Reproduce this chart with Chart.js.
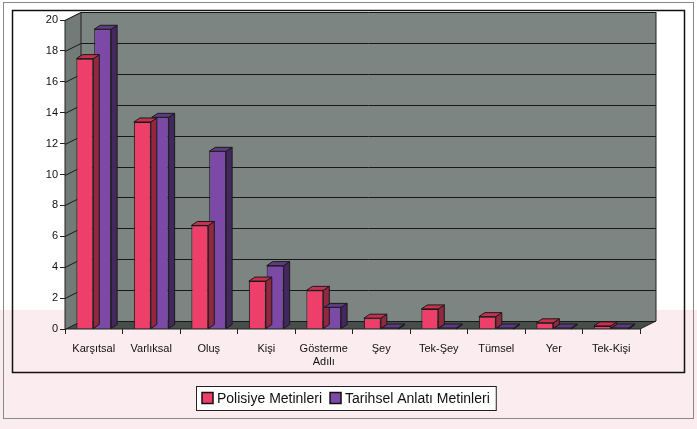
<!DOCTYPE html>
<html>
<head>
<meta charset="utf-8">
<script src="https://cdn.jsdelivr.net/npm/chart.js@4.4.0/dist/chart.umd.min.js"></script>
<style>
  html, body { margin: 0; padding: 0; background: #ffffff; }
  #wrap { position: relative; width: 697px; height: 429px;
    background: linear-gradient(180deg, #ffffff 0, #ffffff 310px, #fbecef 310px, #fbecef 429px); }
  canvas { position: absolute; left: 0; top: 0; }
</style>
</head>
<body>
<div id="wrap"><canvas id="chart" width="697" height="429"></canvas></div>
<script>
// categorie e valori
const categories = ['Karşıtsal', 'Varlıksal', 'Oluş', 'Kişi', ['Gösterme', 'Adılı'], 'Şey', 'Tek-Şey', 'Tümsel', 'Yer', 'Tek-Kişi'];
const polisiye = [17.5, 13.4, 6.7, 3.1, 2.5, 0.7, 1.3, 0.8, 0.4, 0.2];
const tarihsel = [19.4, 13.7, 11.5, 4.1, 1.4, 0, 0, 0, 0, 0];
const yTicks = [0, 2, 4, 6, 8, 10, 12, 14, 16, 18, 20];

const seriesNames = ['Polisiye Metinleri', 'Tarihsel Anlatı Metinleri'];
const seriesColors = ['#ee3f6a', '#7c4aa6'];
const sideColors = ['#92283f', '#43285f'];
const topColors = ['#c8304f', '#5e3a84'];

const WALL_DX = 16, WALL_DY = -8;   // profondità pareti
const BAR_DX = 6, BAR_DY = -4;      // profondità barre

// pareti, pavimento e griglia in stile 3D
const wallPlugin = {
    id: 'wall3d',
    beforeDatasetsDraw(chart) {
        const { ctx, chartArea: a, scales: { y } } = chart;
        ctx.save();
        // parete laterale
        ctx.fillStyle = '#727b77';
        ctx.beginPath();
        ctx.moveTo(a.left, a.top);
        ctx.lineTo(a.left + WALL_DX, a.top + WALL_DY);
        ctx.lineTo(a.left + WALL_DX, a.bottom + WALL_DY);
        ctx.lineTo(a.left, a.bottom);
        ctx.closePath();
        ctx.fill();
        // parete di fondo
        ctx.fillStyle = '#7c8581';
        ctx.fillRect(a.left + WALL_DX, a.top + WALL_DY, a.right - a.left, a.bottom - a.top);
        // pavimento
        ctx.fillStyle = '#474d4a';
        ctx.beginPath();
        ctx.moveTo(a.left, a.bottom);
        ctx.lineTo(a.left + WALL_DX, a.bottom + WALL_DY);
        ctx.lineTo(a.right + WALL_DX, a.bottom + WALL_DY);
        ctx.lineTo(a.right, a.bottom);
        ctx.closePath();
        ctx.fill();
        // griglia
        ctx.strokeStyle = '#161917';
        ctx.lineWidth = 1;
        yTicks.forEach(v => {
            const py = Math.round(y.getPixelForValue(v)) + 0.5;
            ctx.beginPath();
            ctx.moveTo(a.left, py);
            ctx.lineTo(a.left + WALL_DX, py + WALL_DY);
            ctx.lineTo(a.right + WALL_DX, py + WALL_DY);
            ctx.stroke();
        });
        // bordi pareti
        ctx.strokeStyle = '#222';
        ctx.beginPath();
        ctx.moveTo(a.left + WALL_DX, a.top + WALL_DY);
        ctx.lineTo(a.left + WALL_DX, a.bottom + WALL_DY);
        ctx.moveTo(a.right + WALL_DX, a.top + WALL_DY);
        ctx.lineTo(a.right + WALL_DX, a.bottom + WALL_DY);
        ctx.lineTo(a.right, a.bottom);
        ctx.moveTo(a.left, a.top);
        ctx.lineTo(a.left, a.bottom);
        ctx.lineTo(a.right, a.bottom);
        ctx.stroke();
        ctx.restore();
    },
    afterDatasetsDraw(chart) {
        const { ctx } = chart;
        ctx.save();
        ctx.strokeStyle = '#1a1a1a';
        ctx.lineWidth = 1;
        chart.data.datasets.forEach((ds, i) => {
            chart.getDatasetMeta(i).data.forEach(bar => {
                const r = bar.x + bar.width / 2;
                const l = bar.x - bar.width / 2;
                const top = Math.min(bar.y, bar.base - 1);
                // faccia laterale
                ctx.fillStyle = sideColors[i];
                ctx.beginPath();
                ctx.moveTo(r, top);
                ctx.lineTo(r + BAR_DX, top + BAR_DY);
                ctx.lineTo(r + BAR_DX, bar.base + BAR_DY);
                ctx.lineTo(r, bar.base);
                ctx.closePath();
                ctx.fill();
                ctx.stroke();
                // faccia superiore
                ctx.fillStyle = topColors[i];
                ctx.beginPath();
                ctx.moveTo(l, top);
                ctx.lineTo(l + BAR_DX, top + BAR_DY);
                ctx.lineTo(r + BAR_DX, top + BAR_DY);
                ctx.lineTo(r, top);
                ctx.closePath();
                ctx.fill();
                ctx.stroke();
            });
        });
        ctx.restore();
    }
};

// cornice e legenda
const framePlugin = {
    id: 'frame',
    afterDraw(chart) {
        const { ctx } = chart;
        ctx.save();
        ctx.strokeStyle = '#111';
        ctx.lineWidth = 1.5;
        ctx.strokeRect(12.5, 10.5, 672, 362);
        ctx.strokeStyle = '#888';
        ctx.lineWidth = 1;
        ctx.strokeRect(3.5, 2.5, 690, 416);

        // legenda
        ctx.font = '14px "Liberation Sans", Arial, sans-serif';
        ctx.textBaseline = 'middle';
        const box = 11, gap = 4, sep = 8;
        const widths = seriesNames.map(n => ctx.measureText(n).width);
        const total = widths.reduce((s, w) => s + w + box + gap, 0) + sep + 12;
        const lx = 196, ly = 386, lh = 24;
        ctx.fillStyle = '#ffffff';
        ctx.fillRect(lx, ly, total, lh);
        ctx.strokeStyle = '#222';
        ctx.strokeRect(lx + 0.5, ly + 0.5, total, lh);
        let cx = lx + 6;
        seriesNames.forEach((n, i) => {
            ctx.fillStyle = seriesColors[i];
            ctx.fillRect(cx, ly + lh / 2 - box / 2, box, box);
            ctx.strokeStyle = '#111';
            ctx.lineWidth = 1.5;
            ctx.strokeRect(cx, ly + lh / 2 - box / 2, box, box);
            ctx.fillStyle = '#111';
            ctx.fillText(n, cx + box + gap, ly + lh / 2 + 1);
            cx += box + gap + widths[i] + sep;
        });
        ctx.restore();
    }
};

new Chart(document.getElementById('chart'), {
    type: 'bar',
    data: {
        labels: categories,
        datasets: [
            { label: seriesNames[0], data: polisiye, backgroundColor: seriesColors[0], borderColor: '#1a1a1a', borderWidth: 1 },
            { label: seriesNames[1], data: tarihsel, backgroundColor: seriesColors[1], borderColor: '#1a1a1a', borderWidth: 1 }
        ]
    },
    options: {
        responsive: false,
        animation: false,
        layout: { padding: { left: 28, right: 57, top: 20, bottom: 58 } },
        categoryPercentage: 0.62,
        barPercentage: 0.95,
        plugins: {
            legend: { display: false },
            tooltip: { enabled: false }
        },
        scales: {
            x: {
                grid: { display: true, offset: true, drawOnChartArea: false, drawTicks: true, tickLength: 5, color: '#222' },
                border: { display: false },
                ticks: { color: '#111', font: { size: 11, family: '"Liberation Sans", Arial, sans-serif' }, padding: 8, maxRotation: 0, autoSkip: false },
                afterFit: s => { s.height = 42; }
            },
            y: {
                min: 0,
                max: 20,
                afterBuildTicks: s => { s.ticks = yTicks.map(v => ({ value: v })); },
                grid: { display: true, drawOnChartArea: false, drawTicks: true, tickLength: 5, color: '#222' },
                border: { display: false },
                ticks: { color: '#111', font: { size: 11, family: '"Liberation Sans", Arial, sans-serif' }, padding: 2 },
                afterFit: s => { s.width = 37; }
            }
        }
    },
    plugins: [wallPlugin, framePlugin]
});
</script>
</body>
</html>
